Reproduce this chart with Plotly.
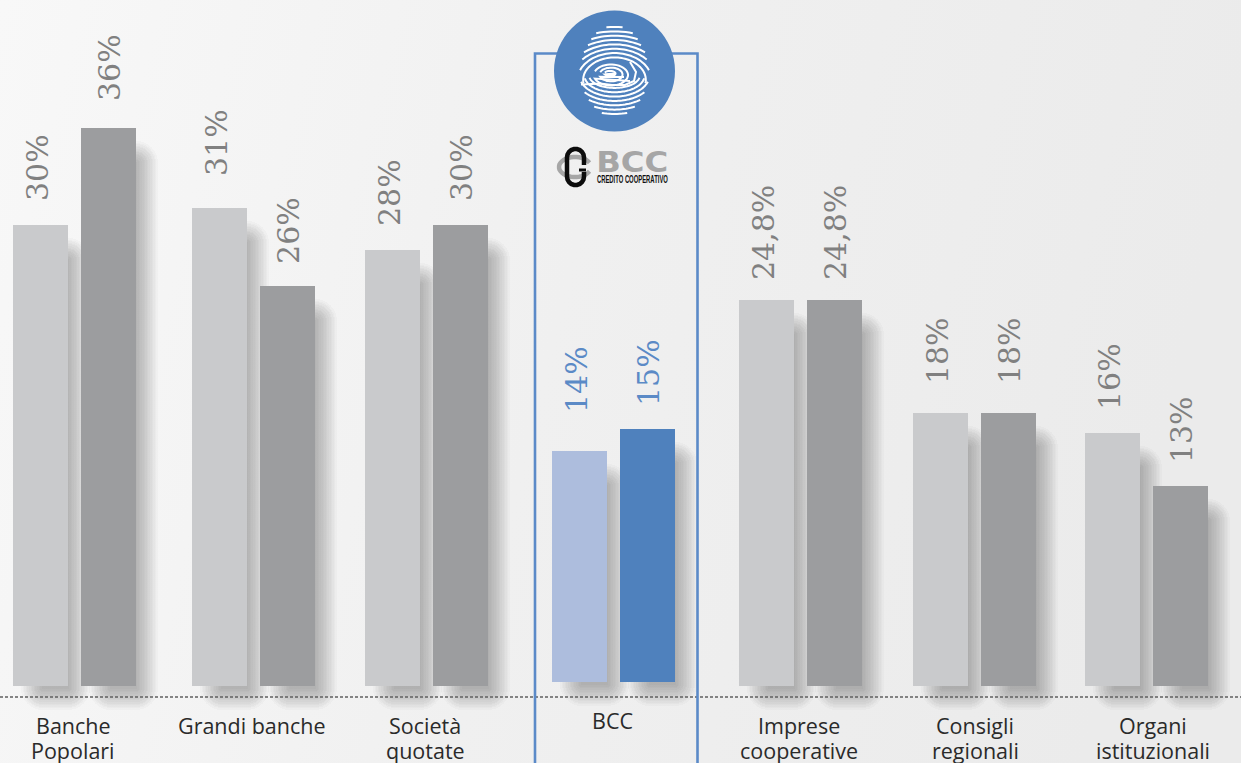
import math
from urllib.parse import quote
import plotly.graph_objects as go

# ---- data ----
categories = ["Banche<br>Popolari", "Grandi banche", "Società<br>quotate", "BCC",
              "Imprese<br>cooperative", "Consigli<br>regionali", "Organi<br>istituzionali"]
first_labels = ["30%", "31%", "28%", "14%", "24,8%", "18%", "16%"]
second_labels = ["36%", "26%", "30%", "15%", "24,8%", "18%", "13%"]
# bar tops as drawn in the picture, on the chart's own scale
first_tops = [29.74, 30.84, 28.13, 15.16, 24.90, 17.61, 16.32]
second_tops = [36.00, 25.81, 29.74, 16.58, 24.90, 17.61, 12.90]
group_floor = [0, 0, 0, 0.26, 0, 0, 0]

# ---- layout constants ----
W, H = 1241, 763
PX = 15.5            # pixels per unit
BASE_PX = 686
group_x = [74.5, 253.5, 426.5, 613.5, 800.5, 974.5, 1146.5]
cat_x = [73, 252, 425, 612, 799, 975, 1153]
pair = 34
bar_w = 55
first_gap = [27, 35, 27, 41, 23, 32, 26]
second_gap = [30, 25, 27, 26, 23, 32, 26]
BLUE = "#4f81bd"
LIGHT = "#c9cacc"
DARK = "#9c9d9f"
BLUE_L = "#adbddd"
BOX = "#5b8ac8"

fig = go.Figure()
xs = [g - pair for g in group_x] + [g + pair for g in group_x]
tops = first_tops + second_tops
floors = group_floor + group_floor

# soft shadows: nested translucent bars following each real bar
N = 14
STEP = 1.6
for k in range(N):
    inset = k * STEP
    fig.add_trace(go.Bar(
        x=[x + 15 for x in xs],
        y=[(t - (13 + inset) / PX) - (f - (24 - inset) / PX) for t, f in zip(tops, floors)],
        base=[f - (24 - inset) / PX for f in floors],
        width=[bar_w + 14 - 2 * inset] * len(xs),
        marker=dict(color="rgba(0,0,0,0.018)", line=dict(width=0), cornerradius=max(0, 22 - inset)),
        hoverinfo="skip", showlegend=False,
    ))

colors1 = [BLUE_L if c == "BCC" else LIGHT for c in categories]
colors2 = [BLUE if c == "BCC" else DARK for c in categories]
for xx, vals, cols, name in [([g - pair for g in group_x], first_tops, colors1, "a"),
                             ([g + pair for g in group_x], second_tops, colors2, "b")]:
    fig.add_trace(go.Bar(
        x=xx, y=[v - f for v, f in zip(vals, group_floor)], base=group_floor,
        width=bar_w, marker=dict(color=cols, line=dict(width=0)),
        name=name, showlegend=False, hoverinfo="skip",
    ))

ann = []
for i, c in enumerate(categories):
    col = "#5b8ac6" if c == "BCC" else "#808080"
    for sign, labs, vals, gaps, dx in [(-1, first_labels, first_tops, first_gap, -3),
                                       (1, second_labels, second_tops, second_gap, 1)]:
        ann.append(dict(x=group_x[i] + sign * pair + dx, y=vals[i], xref="x", yref="y",
                        text=labs[i], textangle=-90, showarrow=False, yanchor="bottom",
                        xanchor="center", yshift=gaps[i] - 4, borderpad=0,
                        font=dict(family="DejaVu Serif", size=30, color=col)))
    base_line = 705 if c == "BCC" else 710
    for j, part in enumerate(c.split("<br>")):
        ann.append(dict(x=cat_x[i], y=base_line + 25 * j, xref="x", yref="y2",
                        text=part, showarrow=False, yanchor="top", xanchor="center", borderpad=0,
                        font=dict(family="Open Sans", size=21.5, color="#2a2a2a")))

# logo text
ann.append(dict(x=632, y=162, xref="x", yref="y2", text="<b>BCC</b>", showarrow=False,
                font=dict(family="DejaVu Sans", size=28, color="#a6a6a6")))
ann.append(dict(x=632.5, y=179, xref="x", yref="y2", text="<b>CREDITO COOPERATIVO</b>", showarrow=False,
                font=dict(family="Liberation Sans", size=10.5, color="#111111")))

shapes = []
def ln(x0, y0, x1, y1, **line):
    shapes.append(dict(type="line", xref="x", yref="y2", x0=x0, y0=y0, x1=x1, y1=y1, line=line))

def path(points, color, width, closed=False):
    d = "M" + " L".join(f"{x:.1f},{y:.1f}" for x, y in points) + (" Z" if closed else "")
    shapes.append(dict(type="path", xref="x", yref="y2", path=d,
                       line=dict(color=color, width=width)))

# dotted baseline and the BCC frame
ln(0, 697, W, 697, color="#5f5f5f", width=1.4, dash="3px,2px")
shapes.append(dict(type="path", xref="x", yref="y2", path="M535,770 L535,53.5 L697.5,53.5 L697.5,770",
                   line=dict(color=BOX, width=2.6)))
# badge
shapes.append(dict(type="circle", xref="x", yref="y2", x0=554, x1=675, y0=10.5, y1=131.5,
                   fillcolor=BLUE, line=dict(width=0)))

# fingerprint
SX, SY, SRX, SRY = 614.5, 71, 34.5, 45.5
def inside(x, y):
    return ((x - SX) / SRX) ** 2 + ((y - SY) / SRY) ** 2 <= 1

def ridge(cx, cy, rx, ry, a0, a1, steps=60):
    pts = []
    for j in range(steps + 1):
        a = math.radians(a0 + (a1 - a0) * j / steps)
        x, y = cx + rx * math.cos(a), cy + ry * math.sin(a)
        if inside(x, y):
            pts.append((x, y))
    if len(pts) > 1:
        path(pts, "white", 2)

for k in range(8):
    top = 27 + 4.35 * k
    ry = 80 - top
    ridge(614.5, 80, ry * 1.3 + 2, ry, 172, 368)
for k in range(7):
    bot = 114 - 4.35 * k
    ry = bot - 76
    ridge(614.5, 76, ry * 1.1 + 12, ry, 8, 172)

def tear(cx, cy, rx, ry, tipx, tipy):
    pts = []
    for j in range(40):
        a = math.radians(20 + 320 * j / 39)
        pts.append((cx + rx * math.cos(a + math.pi), cy + ry * math.sin(a + math.pi)))
    path(pts + [(tipx, tipy)], "white", 2)

tear(610, 73.5, 5.5, 2.6, 616, 73.5)
tear(611, 74.5, 11.5, 6.8, 624, 77)
tear(611, 75, 17, 10.5, 630, 81)
path([(581, 84.5), (592, 84), (600, 83.5), (612, 85), (625, 85), (634, 81), (636, 72), (630, 62)], "white", 2)

# BCC mark: grey ring, black link
grey_ring = [(575 + 16 * math.cos(math.radians(a)), 167 + 10 * math.sin(math.radians(a))) for a in range(25, 336, 10)]
path(grey_ring, "#a6a6a6", 4.5)
upper = [(584, 165), (584, 157.5)] + [(575.5 + 8.5 * math.cos(math.radians(a)), 157.5 + 8.5 * math.sin(math.radians(a))) for a in range(0, -181, -20)]
lower = [(575.5 + 8.5 * math.cos(math.radians(a)), 176.5 + 8.5 * math.sin(math.radians(a))) for a in range(180, -1, -20)] + [(584, 172)]
path(upper + lower, "#0c0c0c", 4.5)
path([(579, 170), (586, 170)], "#0c0c0c", 3)

bg_svg = (f'<svg xmlns="http://www.w3.org/2000/svg" width="{W}" height="{H}">'
          '<defs><linearGradient id="g" x1="0" y1="0" x2="1" y2="0.15">'
          '<stop offset="0" stop-color="#f8f8f8"/><stop offset="0.5" stop-color="#f0f0f0"/>'
          '<stop offset="1" stop-color="#ebebeb"/></linearGradient></defs>'
          f'<rect width="{W}" height="{H}" fill="url(#g)"/></svg>')

fig.update_layout(
    width=W, height=H, margin=dict(l=0, r=0, t=0, b=0), autosize=False,
    barmode="overlay", bargap=0, showlegend=False,
    paper_bgcolor="#f0f0f0", plot_bgcolor="rgba(0,0,0,0)",
    xaxis=dict(range=[0, W], visible=False, fixedrange=True),
    yaxis=dict(range=[(BASE_PX - H) / PX, BASE_PX / PX], visible=False, fixedrange=True),
    yaxis2=dict(range=[H, 0], visible=False, overlaying="y", fixedrange=True),
    shapes=shapes, annotations=ann,
    images=[dict(source="data:image/svg+xml," + quote(bg_svg), xref="paper", yref="paper",
                 x=0, y=1, sizex=1, sizey=1, sizing="stretch", xanchor="left", yanchor="top", layer="below")],
)
# keep y2 alive with an invisible trace
fig.add_trace(go.Scatter(x=[0], y=[0], yaxis="y2", mode="markers", marker=dict(opacity=0),
                         hoverinfo="skip", showlegend=False))

post = """
document.body.style.margin='0';document.body.style.overflow='hidden';
document.querySelectorAll('.annotation-text').forEach(function(t){
  if(t.textContent==='BCC' && t.style.fontSize==='28px'){t.setAttribute('textLength','72');t.setAttribute('lengthAdjust','spacingAndGlyphs');}
  if(t.textContent==='CREDITO COOPERATIVO'){t.setAttribute('textLength','71');t.setAttribute('lengthAdjust','spacingAndGlyphs');}
});
"""
fig.write_html("out.html", config=dict(displayModeBar=False), post_script=post)
